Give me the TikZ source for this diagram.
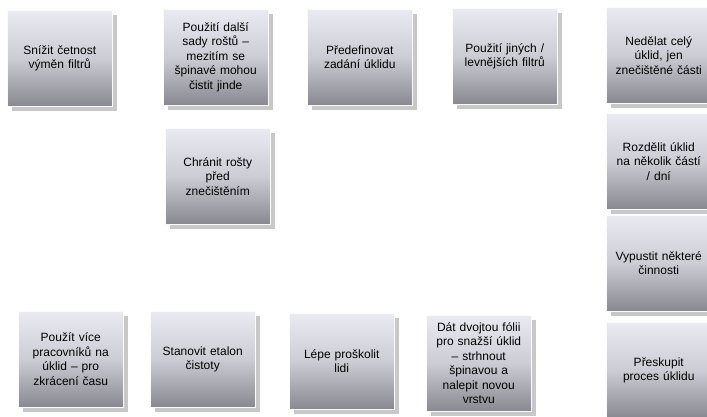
\documentclass[tikz,border=0pt]{standalone}
\usepackage{fontspec}
\setmainfont{Liberation Sans}
\usetikzlibrary{shadows}
\definecolor{boxtop}{RGB}{234,234,242}
\definecolor{boxmid}{RGB}{204,204,212}
\definecolor{boxbottom}{RGB}{136,136,144}
\definecolor{shadowgray}{RGB}{200,200,200}
\begin{document}
\begin{tikzpicture}[x=1pt, y=-1pt,
  idea node/.style={anchor=north west, rectangle, inner sep=0pt,
    minimum width=105pt, minimum height=96pt, text width=100pt, align=center,
    top color=boxtop, bottom color=boxbottom, middle color=boxmid,
    draw=white!80!boxtop, line width=0.5pt,
    drop shadow={shadow xshift=5pt, shadow yshift=-5pt, fill=shadowgray, opacity=1},
    font=\fontsize{12}{14.5}\selectfont}]
\useasboundingbox (0,0) rectangle (707,416);
\fill[white] (0,0) rectangle (707,416);
% upper row
\node[idea node] (snizit)  at (7,10)  {Snížit četnost\\výměn filtrů};
\node[idea node] (dalsi)   at (163,9) {Použití další\\sady roštů –\\mezitím se\\špinavé mohou\\čistit jinde};
\node[idea node] (predef)  at (307,9) {Předefinovat\\zadání úklidu};
\node[idea node] (jinych)  at (452,8) {Použití jiných /\\levnějších filtrů};
\node[idea node] (chranit) at (165,128) {Chránit rošty\\před\\znečištěním};
% right column
\node[idea node] (nedelat)   at (606,7)   {Nedělat celý\\úklid, jen\\znečištěné části};
\node[idea node] (rozdelit)  at (606,113) {Rozdělit úklid\\na několik částí\\/ dní};
\node[idea node] (vypustit)  at (606,215) {Vypustit některé\\činnosti};
\node[idea node] (preskupit) at (606,322) {Přeskupit\\proces úklidu};
% lower row
\node[idea node] (vice)      at (18,311)  {Použít více\\pracovníků na\\úklid – pro\\zkrácení času};
\node[idea node] (etalon)    at (150,311) {Stanovit etalon\\čistoty};
\node[idea node] (proskolit) at (289,313) {Lépe proškolit\\lidi};
\node[idea node] (folie)     at (426,315) {Dát dvojtou fólii\\pro snažší úklid\\– strhnout\\špinavou a\\nalepit novou\\vrstvu};
\end{tikzpicture}
\end{document}
